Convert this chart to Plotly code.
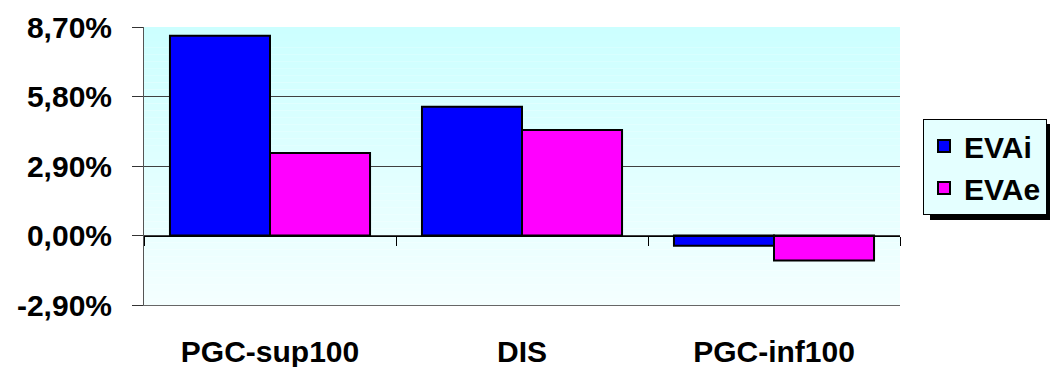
import plotly.graph_objects as go

categories = ["PGC-sup100", "DIS", "PGC-inf100"]
evai = [0.0833, 0.0537, -0.0043]
evae = [0.0344, 0.0440, -0.0104]
series_names = ["EVAi", "EVAe"]
y_ticks = [-0.029, 0.0, 0.029, 0.058, 0.087]
y_tick_labels = ["-2,90%", "0,00%", "2,90%", "5,80%", "8,70%"]

FONT = "Liberation Sans, Arial, sans-serif"
FS = 30

fig = go.Figure()
fig.add_trace(go.Bar(x=categories, y=evai, name=series_names[0], legendgroup="a",
                     marker=dict(color="#0000FF", line=dict(color="black", width=2))))
fig.add_trace(go.Bar(x=categories, y=evae, name=series_names[1], legendgroup="b",
                     marker=dict(color="#FF00FF", line=dict(color="black", width=2))))
# invisible trace to activate overlay axis for zero-line ticks
fig.add_trace(go.Scatter(x=[0], y=[0], xaxis="x2", yaxis="y", mode="markers",
                         marker=dict(opacity=0), showlegend=False, hoverinfo="skip"))

# gradient background strips
n = 40
top = (0xCC, 0xFF, 0xFF)
bot = (0xF4, 0xFF, 0xFF)
shapes = []
for i in range(n):
    t = i / (n - 1)
    c = tuple(round(bot[k] + (top[k] - bot[k]) * t) for k in range(3))
    shapes.append(dict(type="rect", xref="x domain", yref="y domain",
                       x0=0, x1=1, y0=i / n, y1=(i + 1) / n,
                       fillcolor="rgb(%d,%d,%d)" % c, line=dict(width=0), layer="below"))
# legend shadow
shapes.append(dict(type="rect", xref="paper", yref="paper",
                   x0=(930 - 144) / 756, x1=(1062 - 144) / 756,
                   y0=(305 - 220) / 278, y1=(305 - 124) / 278,
                   fillcolor="black", line=dict(width=0), layer="above"))

# page body has an 8px default margin: figure is 8px smaller, margins compensate
fig.update_layout(
    width=1050, height=359,
    margin=dict(l=136, r=158, t=19, b=62, autoexpand=False),
    paper_bgcolor="white", plot_bgcolor="white",
    barmode="group", bargap=0.206, bargroupgap=0,
    font=dict(family=FONT, size=FS, color="black"),
    shapes=shapes,
    showlegend=True,
    legend=dict(x=(923 - 144) / 756, y=(305 - 119) / 278, xanchor="left", yanchor="top",
                bgcolor="#E4FFFF", bordercolor="black", borderwidth=1,
                font=dict(family=FONT, size=FS, color="black", weight="bold"),
                tracegroupgap=0),
    xaxis=dict(type="category", showgrid=False, ticks="", showline=True, mirror=False,
               linecolor="#666", linewidth=1, zeroline=False, automargin=False,
               tickfont=dict(family=FONT, size=FS, color="black", weight="bold"),
               ticklabelstandoff=20, range=[-0.5, 2.5]),
    xaxis2=dict(overlaying="x", anchor="free", position=0.25, range=[-0.5, 2.5],
                showgrid=False, zeroline=False, showline=True, linecolor="black", linewidth=1,
                tickmode="array", tickvals=[-0.5, 0.5, 1.5, 2.5], ticks="outside",
                ticklen=9, tickcolor="black", showticklabels=False, automargin=False),
    yaxis=dict(range=[-0.029, 0.087], tickmode="array", tickvals=y_ticks,
               ticktext=y_tick_labels, showgrid=True, gridcolor="#404040", gridwidth=1,
               zeroline=False, showline=True, linecolor="#555", linewidth=1,
               ticks="outside", ticklen=11, tickcolor="#333", automargin=False,
               tickfont=dict(family=FONT, size=FS, color="black", weight="bold"),
               ticklabelstandoff=14),
)

fig.write_html("out.html")
